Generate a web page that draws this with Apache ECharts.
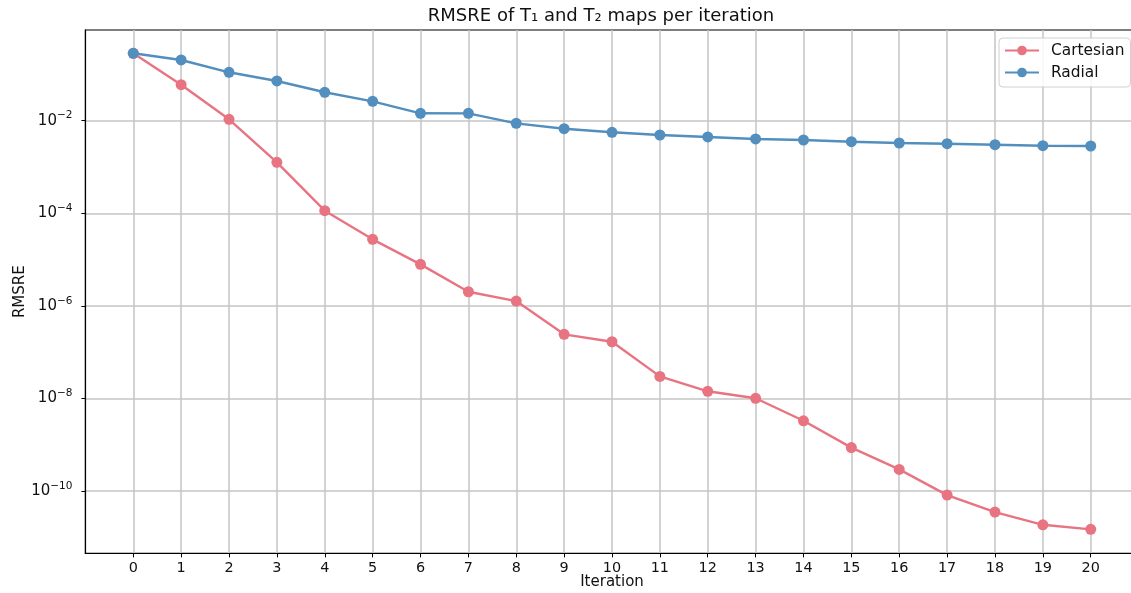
<!DOCTYPE html>
<html>
<head>
<meta charset="utf-8">
<script src="https://cdn.jsdelivr.net/npm/echarts@6/dist/echarts.min.js"></script>
<style>
html,body{margin:0;padding:0;background:#fff;}
#chart{width:1131px;height:593px;}
</style>
</head>
<body>
<div id="chart"></div>
<script>
var iterations = [0,1,2,3,4,5,6,7,8,9,10,11,12,13,14,15,16,17,18,19,20];
var cartesian = [0.286, 0.060, 0.0107, 1.26e-3, 1.14e-4, 2.74e-5, 7.89e-6, 2.02e-6, 1.27e-6, 2.43e-7, 1.68e-7, 3.0e-8, 1.43e-8, 1.01e-8, 3.30e-9, 8.7e-10, 2.94e-10, 8.2e-11, 3.52e-11, 1.87e-11, 1.49e-11];
var radial = [0.286, 0.205, 0.111, 0.0721, 0.0411, 0.0262, 0.01445, 0.0144, 8.77e-3, 6.71e-3, 5.61e-3, 4.91e-3, 4.45e-3, 4.03e-3, 3.83e-3, 3.52e-3, 3.30e-3, 3.18e-3, 3.03e-3, 2.88e-3, 2.84e-3];
var yTickExponents = [-10, -8, -6, -4, -2];

var FONT = 'DejaVu Sans';
var chart = echarts.init(document.getElementById('chart'), null, {renderer: 'canvas'});

// plotted on a log10 scale (decades)
function pairs(vals) {
  return iterations.map(function (x, i) { return [x, Math.log10(vals[i])]; });
}

var option = {
  backgroundColor: '#fff',
  animation: false,
  textStyle: {fontFamily: FONT},
  title: {
    text: 'RMSRE of T\u2081 and T\u2082 maps per iteration',
    left: 596, top: 2, textAlign: 'center',
    textStyle: {fontFamily: FONT, fontSize: 18, fontWeight: 'normal', color: '#111'}
  },
  legend: {
    left: 999, top: 38,
    orient: 'vertical',
    itemWidth: 34, itemHeight: 12, itemGap: 7,
    padding: [5, 6, 7, 5],
    borderColor: '#d0d0d0', borderWidth: 1, borderRadius: 4,
    backgroundColor: 'rgba(255,255,255,0.85)',
    textStyle: {fontFamily: FONT, fontSize: 15.4, color: '#111', padding: [0, 0, 0, 7]},
    data: ['Cartesian', 'Radial']
  },
  grid: {
    left: 85.4, right: -7.6, top: 30, bottom: 593 - 553.4,
    outerBoundsMode: 'none',
    show: true, borderColor: '#000', borderWidth: 1.2, backgroundColor: 'transparent',
    containLabel: false
  },
  xAxis: {
    type: 'value',
    min: -1, max: 21,
    name: 'Iteration', nameLocation: 'middle', nameGap: 21, nameMoveOverlap: false,
    nameTextStyle: {fontFamily: FONT, fontSize: 15, color: '#111'},
    axisLine: {show: true, onZero: false, lineStyle: {color: '#000', width: 1.2}},
    axisTick: {show: true, length: 4, lineStyle: {color: '#000', width: 1}, customValues: iterations},
    axisLabel: {customValues: iterations, fontFamily: FONT, fontSize: 14.4, color: '#111', margin: 8},
    splitLine: {show: true, lineStyle: {color: '#c4c4c4', width: 1.5}}
  },
  yAxis: {
    type: 'value',
    min: -11.346, max: -0.041,
    name: 'RMSRE', nameLocation: 'middle', nameGap: 58, nameRotate: 90, nameMoveOverlap: false,
    nameTextStyle: {fontFamily: FONT, fontSize: 15, color: '#111'},
    axisLine: {show: true, onZero: false, lineStyle: {color: '#000', width: 1.2}},
    axisTick: {show: true, length: 4, lineStyle: {color: '#000', width: 1}, customValues: yTickExponents},
    axisLabel: {
      customValues: yTickExponents,
      fontFamily: FONT, margin: 13,
      formatter: function (e) {
        return '{b|10}{s|\u2212' + Math.abs(Math.round(e)) + '}';
      },
      rich: {
        b: {fontFamily: FONT, fontSize: 15, color: '#111'},
        s: {fontFamily: FONT, fontSize: 10.5, color: '#111', padding: [0, 0, 10, 0]}
      }
    },
    splitLine: {show: true, lineStyle: {color: '#c4c4c4', width: 1.5}}
  },
  series: [
    {
      name: 'Cartesian', type: 'line', data: pairs(cartesian),
      symbol: 'circle', symbolSize: 11,
      lineStyle: {color: '#e87482', width: 2.4},
      itemStyle: {color: '#e87482'},
      z: 3
    },
    {
      name: 'Radial', type: 'line', data: pairs(radial),
      symbol: 'circle', symbolSize: 11,
      lineStyle: {color: '#528fbe', width: 2.4},
      itemStyle: {color: '#528fbe'},
      z: 4
    }
  ]
};
chart.setOption(option);
</script>
</body>
</html>
